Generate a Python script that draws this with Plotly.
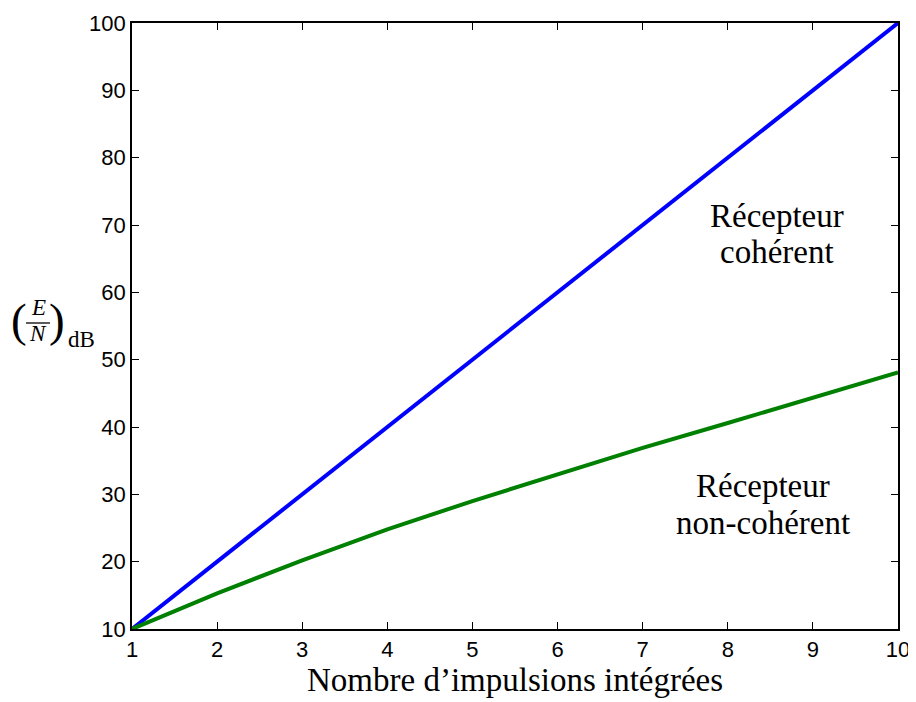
import plotly.graph_objects as go

# Data
pulses = [1, 2, 3, 4, 5, 6, 7, 8, 9, 10]
coherent_db = [10, 20, 30, 40, 50, 60, 70, 80, 90, 100]
noncoherent_db = [10, 15.3, 20.2, 24.8, 29.0, 33.0, 36.9, 40.6, 44.4, 48.1]
x_ticks = [1, 2, 3, 4, 5, 6, 7, 8, 9, 10]
y_ticks = [10, 20, 30, 40, 50, 60, 70, 80, 90, 100]

SERIF = "Liberation Serif, DejaVu Serif, serif"
SANS = "Liberation Sans, Arial, sans-serif"

# figure geometry (page body has an 8px margin)
W, H = 916, 702
ML, MR, MT, MB = 124, 26, 15, 81
PL, PT = 132, 23                     # plot-area origin on screen
PW, PH = W - ML - MR, H - MT - MB    # plot-area size

def paper(sx, sy):
    return (sx - PL) / PW, (PT + PH - sy) / PH

fig = go.Figure()
fig.add_trace(go.Scatter(x=pulses, y=coherent_db, mode="lines",
                         line=dict(color="#0000FF", width=4), showlegend=False))
fig.add_trace(go.Scatter(x=pulses, y=noncoherent_db, mode="lines",
                         line=dict(color="#008000", width=4), showlegend=False))

axis_common = dict(showline=True, linecolor="black", linewidth=1.6, mirror="ticks",
                   ticks="inside", ticklen=7, tickcolor="black", tickwidth=1,
                   showgrid=False, zeroline=False, automargin=False,
                   tickfont=dict(family=SANS, size=22, color="black"))

fig.update_xaxes(range=[1, 10], tickvals=x_ticks, **axis_common)
fig.update_yaxes(range=[10, 100], tickvals=y_ticks, **axis_common)

ann = []
LBL = dict(family=SERIF, size=33, color="black")
for txt, x, y in [("Récepteur", 8.58, 71.3), ("cohérent", 8.58, 66.0),
                  ("Récepteur", 8.41, 31.2), ("non-cohérent", 8.41, 25.8)]:
    ann.append(dict(x=x, y=y, xref="x", yref="y", text=txt, showarrow=False,
                    xanchor="center", yanchor="middle", font=LBL))

# x-axis title
tx, ty = paper(515, 680)
ann.append(dict(x=tx, y=ty, xref="paper", yref="paper", text="Nombre d’impulsions intégrées",
                showarrow=False, xanchor="center", yanchor="middle",
                font=dict(family=SERIF, size=33, color="black")))

# Y label: (E/N)_dB built from pieces
for txt, sx, sy, sz, ital in [("(", 19, 320, 47, False), ("E", 38, 307, 23, True),
                              ("N", 38, 334, 23, True), (")", 57, 320, 47, False),
                              ("dB", 81, 340, 23, False)]:
    xx, yy = paper(sx, sy)
    ann.append(dict(x=xx, y=yy, xref="paper", yref="paper",
                    text=f"<i>{txt}</i>" if ital else txt, showarrow=False,
                    xanchor="center", yanchor="middle",
                    font=dict(family=SERIF, size=sz, color="black")))

x0, y0 = paper(26, 323)
x1, _ = paper(50, 323)

fig.update_layout(
    width=W, height=H,
    margin=dict(l=ML, r=MR, t=MT, b=MB, autoexpand=False),
    paper_bgcolor="white", plot_bgcolor="white",
    annotations=ann,
    shapes=[dict(type="line", xref="paper", yref="paper", x0=x0, x1=x1, y0=y0, y1=y0,
                 line=dict(color="black", width=1.3))],
)

fig.write_html("out.html")
